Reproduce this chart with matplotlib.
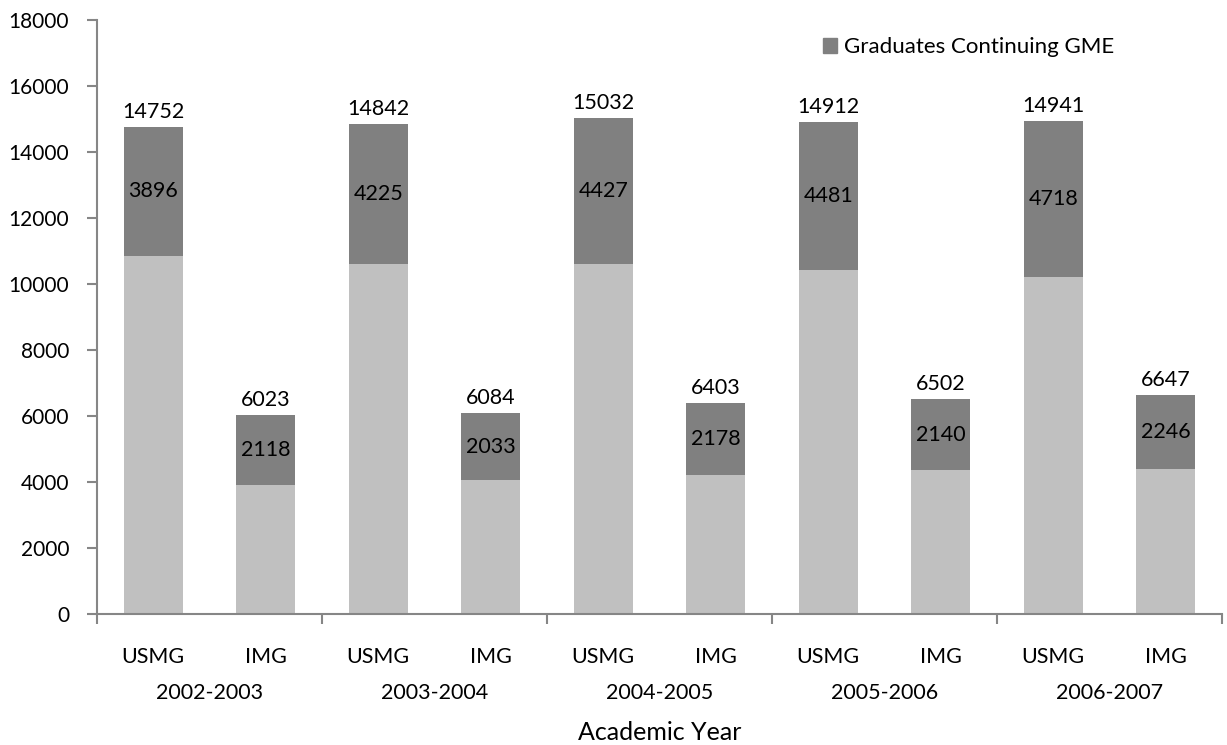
import numpy as np
import matplotlib
matplotlib.use("Agg")
import matplotlib.pyplot as plt
from matplotlib.patches import Patch

plt.rcParams['font.family'] = ['Lato', 'DejaVu Sans']

# data
years = ["2002-2003", "2003-2004", "2004-2005", "2005-2006", "2006-2007"]
groups = ["USMG", "IMG"]
usmg_total = [14752, 14842, 15032, 14912, 14941]
usmg_cont = [3896, 4225, 4427, 4481, 4718]
img_total = [6023, 6084, 6403, 6502, 6647]
img_cont = [2118, 2033, 2178, 2140, 2246]

totals = []
cont = []
labels = []
for i in range(len(years)):
    totals += [usmg_total[i], img_total[i]]
    cont += [usmg_cont[i], img_cont[i]]
    labels += groups
totals = np.array(totals)
cont = np.array(cont)
base = totals - cont
x = np.arange(len(totals))

dark = "#808080"
light = "#c0c0c0"
axcol = "#868686"
fs = 15.5

fig = plt.figure(figsize=(12.27, 7.45), dpi=100)
ax = fig.add_axes([97 / 1227, 1 - 614 / 745, 1125 / 1227, 594 / 745])

w = 0.525
ax.bar(x, base, w, color=light)
ax.bar(x, cont, w, bottom=base, color=dark)

for xi, t, c, b in zip(x, totals, cont, base):
    ax.text(xi, t + 150, str(t), ha="center", va="bottom", fontsize=fs)
    ax.text(xi, b + c / 2, str(c), ha="center", va="center", fontsize=fs)

ax.set_xlim(-0.5, len(totals) - 0.5)
ax.set_ylim(0, 18000)
ax.set_yticks(np.arange(0, 18001, 2000))
ax.tick_params(axis="y", labelsize=15, color=axcol, length=7, width=1.5, pad=13)

ax.set_xticks(np.arange(-0.5, len(totals), 2))
ax.set_xticklabels([])
ax.tick_params(axis="x", color=axcol, length=7, width=1.5)

for s in ["top", "right"]:
    ax.spines[s].set_visible(False)
for s in ["left", "bottom"]:
    ax.spines[s].set_color(axcol)
    ax.spines[s].set_linewidth(1.5)

tr = ax.get_xaxis_transform()
for xi, lab in zip(x, labels):
    ax.text(xi, -0.072, lab, transform=tr, ha="center", va="center", fontsize=fs)
for i, yr in enumerate(years):
    ax.text(2 * i + 0.5, -0.133, yr, transform=tr, ha="center", va="center", fontsize=fs)
ax.text(0.5, -0.2, "Academic Year", transform=ax.transAxes, ha="center", va="center", fontsize=18)

ax.legend(handles=[Patch(color=dark, label="Graduates Continuing GME")],
          loc="center left", bbox_to_anchor=(823 / 1227, 1 - 47 / 745),
          bbox_transform=fig.transFigure, frameon=False, borderpad=0, borderaxespad=0,
          fontsize=16, handlelength=0.65, handleheight=0.65, handletextpad=0.3)

fig.savefig("out.png", dpi=100)
